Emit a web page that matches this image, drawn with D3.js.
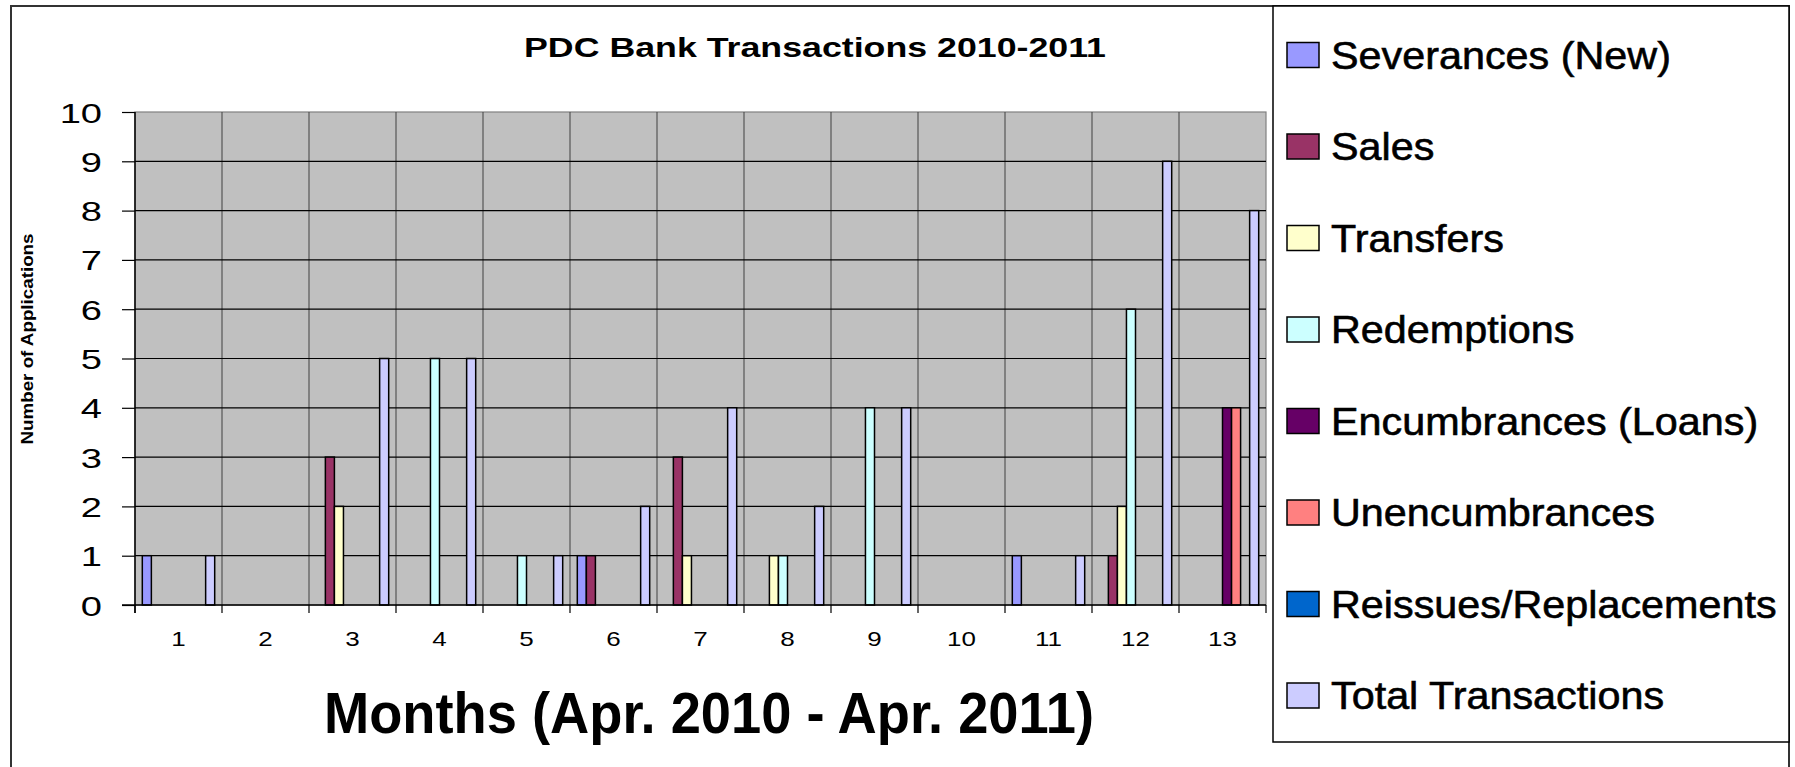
<!DOCTYPE html>
<html><head><meta charset="utf-8">
<script src="https://cdn.jsdelivr.net/npm/d3@7"></script>
<style>body{margin:0;background:#fff}svg{display:block}</style>
</head><body><svg id="c" width="1795" height="767"></svg>
<script>
// ---- data ----
const months = ["1","2","3","4","5","6","7","8","9","10","11","12","13"];
const seriesNames = ["Severances (New)","Sales","Transfers","Redemptions","Encumbrances (Loans)","Unencumbrances","Reissues/Replacements","Total Transactions"];
const seriesColors = ["#9999FF","#993366","#FFFFCC","#CCFFFF","#660066","#FF8080","#0066CC","#CCCCFF"];
const severances     = [1,0,0,0,0,1,0,0,0,0,1,0,0];
const sales          = [0,0,3,0,0,1,3,0,0,0,0,1,0];
const transfers      = [0,0,2,0,0,0,1,1,0,0,0,2,0];
const redemptions    = [0,0,0,5,1,0,0,1,4,0,0,6,0];
const encumbrances   = [0,0,0,0,0,0,0,0,0,0,0,0,4];
const unencumbrances = [0,0,0,0,0,0,0,0,0,0,0,0,4];
const reissues       = [0,0,0,0,0,0,0,0,0,0,0,0,0];
const totals         = [1,0,5,5,1,2,4,2,4,0,1,9,8];
const yTicks = [0,1,2,3,4,5,6,7,8,9,10];
const titleText = "PDC Bank Transactions 2010-2011";
const xTitleText = "Months (Apr. 2010 - Apr. 2011)";
const yTitleText = "Number of Applications";

const seriesValues = [severances,sales,transfers,redemptions,encumbrances,unencumbrances,reissues,totals];

// ---- layout ----
const svg = d3.select("#c");
const W = 1795, H = 767;
const plot = {l:135, r:1266, t:112, b:605};
const font = "'Liberation Sans', Arial, sans-serif";

svg.append("rect").attr("width",W).attr("height",H).attr("fill","#fff");
// outer chart border
svg.append("rect").attr("x",11).attr("y",6).attr("width",1778).attr("height",780)
  .attr("fill","none").attr("stroke","#333").attr("stroke-width",2);

const x0 = d3.scaleBand().domain(months).range([plot.l, plot.r]).paddingInner(0).paddingOuter(0);
const bw = x0.bandwidth();
const x1 = d3.scaleBand().domain(seriesNames).range([bw*0.084, bw*(1-0.084)]).padding(0);
const y = d3.scaleLinear().domain([0,10]).range([plot.b, plot.t]);

// plot background
svg.append("rect").attr("x",plot.l).attr("y",plot.t).attr("width",plot.r-plot.l).attr("height",plot.b-plot.t)
  .attr("fill","#C0C0C0").attr("stroke","#808080").attr("stroke-width",1.2);

// vertical gridlines at category boundaries
const boundaries = months.map(m => x0(m)).concat([plot.r]);
svg.append("g").selectAll("line").data(boundaries.slice(1,-1)).join("line")
  .attr("x1",d=>d).attr("x2",d=>d).attr("y1",plot.t).attr("y2",plot.b)
  .attr("stroke","#404040").attr("stroke-width",1);
// horizontal gridlines
svg.append("g").selectAll("line").data(yTicks.filter(v=>v>0 && v<10)).join("line")
  .attr("x1",plot.l).attr("x2",plot.r).attr("y1",d=>y(d)).attr("y2",d=>y(d))
  .attr("stroke","#000").attr("stroke-width",1.2);

// bars
const barData = [];
seriesValues.forEach((vals,si)=>vals.forEach((v,mi)=>{ if(v>0) barData.push({m:months[mi], s:seriesNames[si], v, c:seriesColors[si]}); }));
svg.append("g").selectAll("rect").data(barData).join("rect")
  .attr("x",d=>x0(d.m)+x1(d.s)).attr("width",x1.bandwidth())
  .attr("y",d=>y(d.v)).attr("height",d=>y(0)-y(d.v))
  .attr("fill",d=>d.c).attr("stroke","#000").attr("stroke-width",1.5);

// y axis
const yAxis = d3.axisLeft(y).tickValues(yTicks).tickSize(13).tickPadding(0).tickFormat(d3.format("d"));
const gy = svg.append("g").attr("transform",`translate(${plot.l},0)`).call(yAxis);
gy.select(".domain").attr("d",`M0,${plot.t}V${plot.b+8}`).attr("stroke","#000").attr("stroke-width",1.5);
gy.selectAll(".tick line").attr("stroke","#000").attr("stroke-width",1.2);
gy.selectAll(".tick text").attr("x",0).attr("dy","0.36em")
  .attr("transform","translate(-33,0) scale(1.36,1)")
  .style("font-family",font).style("font-size","28px").attr("fill","#000");

// x axis: line, boundary ticks, centered labels
const gx = svg.append("g");
gx.append("line").attr("x1",plot.l-13).attr("x2",plot.r).attr("y1",plot.b).attr("y2",plot.b)
  .attr("stroke","#000").attr("stroke-width",1.5);
gx.selectAll("line.tk").data(boundaries).join("line").attr("class","tk")
  .attr("x1",d=>d).attr("x2",d=>d).attr("y1",plot.b).attr("y2",plot.b+8)
  .attr("stroke","#000").attr("stroke-width",1.2);
gx.selectAll("text").data(months).join("text")
  .attr("transform",d=>`translate(${x0(d)+bw/2},${plot.b+41}) scale(1.3,1)`)
  .attr("text-anchor","middle").style("font-family",font).style("font-size","20px").text(d=>d);

// title
svg.append("text").attr("x",815).attr("y",57).attr("text-anchor","middle")
  .attr("textLength",582).attr("lengthAdjust","spacingAndGlyphs")
  .style("font-family",font).style("font-weight","bold").style("font-size","27px").text(titleText);
// x title
svg.append("text").attr("x",709).attr("y",733).attr("text-anchor","middle")
  .attr("textLength",770).attr("lengthAdjust","spacingAndGlyphs")
  .style("font-family",font).style("font-weight","bold").style("font-size","58px").text(xTitleText);
// y title
svg.append("text").attr("transform","translate(33,339) rotate(-90)").attr("text-anchor","middle")
  .attr("textLength",211).attr("lengthAdjust","spacingAndGlyphs")
  .style("font-family",font).style("font-weight","bold").style("font-size","16px").text(yTitleText);

// legend
svg.append("rect").attr("x",1273).attr("y",6).attr("width",516).attr("height",736)
  .attr("fill","#fff").attr("stroke","#000").attr("stroke-width",1.5);
const lg = svg.append("g").selectAll("g").data(seriesNames).join("g")
  .attr("transform",(d,i)=>`translate(1287,${55+i*91.5})`);
lg.append("rect").attr("x",0).attr("y",-12.5).attr("width",32).attr("height",25)
  .attr("fill",(d,i)=>seriesColors[i]).attr("stroke","#000").attr("stroke-width",1.5);
lg.append("text").attr("transform","translate(44,13.5) scale(1.06,1)")
  .style("font-family",font).style("font-size","39px").style("stroke","#000").style("stroke-width","0.6px").text(d=>d);
</script></body></html>
